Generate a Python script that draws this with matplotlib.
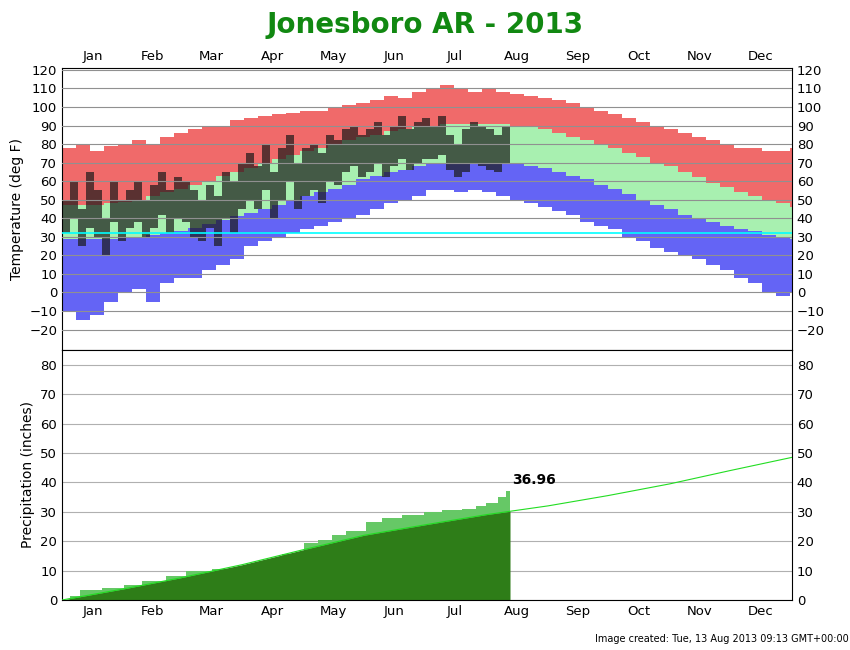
import matplotlib
matplotlib.use("Agg")
import matplotlib.pyplot as plt
import numpy as np

months = ["Jan","Feb","Mar","Apr","May","Jun","Jul","Aug","Sep","Oct","Nov","Dec"]
month_start = [0,31,59,90,120,151,181,212,243,273,304,334,365]

rec_high = [78,80,76,79,80, 82,80,84,86, 88,90,90,93, 94,95,96,97,98, 98,100,101,102,
            104,106,105,108, 110,112,110,108,110, 108,107,106,105, 104,102,100,98,
            96,94,92,90,88, 86,84,82,80, 78,78,76,76,78]
norm_high = [47,47,47,48,49, 50,52,54,56, 58,60,63,65, 67,70,72,74,76, 78,80,82,84,
             85,87,88,89, 90,91,91,91,91, 91,90,89,88, 86,84,82,80, 78,75,73,70,68,
             65,62,59,57, 54,52,50,48,46]
norm_low = [29,29,29,29,30, 30,31,32,33, 35,37,39,41, 43,45,47,50,52, 54,56,58,61,
            63,65,66,68, 69,70,70,70,70, 70,69,68,67, 65,63,61,58, 56,53,50,47,45,
            42,40,38,36, 34,33,31,30,29]
rec_low = [-10,-15,-12,-5,0, 2,-5,5,8, 8,12,15,18, 25,28,30,32,34, 36,38,40,42,
           45,48,50,52, 55,55,54,55,54, 52,50,48,46, 44,42,38,36, 34,30,28,24,22,
           20,18,15,12, 8,5,0,-2,0]

act_high = [50,60,45,65,55,40,60,50, 55,60,50,58,65,55,62, 60,55,50,58,52,65,60,70,
            75,68,80,65,78,85,70,78, 80,75,85,82,88,90,85, 88,92,85,90,95,88,92,94,
            90,95,85,80,88,92,90,88, 85,90]
act_low = [32,40,25,35,30,20,38,28, 35,38,30,35,42,32,40, 38,30,28,35,25,40,32,45,
           50,45,55,40,50,60,45,52, 55,48,60,58,65,68,62, 65,70,62,68,72,66,70,72,
           72,74,66,62,65,70,68,66, 65,70]

prec_days = [0,4,9,20,31,40,52,62,75,85,95,102,110,121,128,135,142,152,160,170,181,190,200,207,212,218,222,224]
prec_act  = [0,1.5,3.5,4,5,6.5,8,10,10.5,11,12,13,15.5,19.5,20.5,22,23.5,26.5,28,29,30,30.5,31,32,33,35,36.96,36.96]
norm_days = month_start
norm_prec = [0,3.8,7.5,12,17,22,25.5,29,32,35.5,39.5,44,48.5]

plt.rcParams['font.size'] = 9.5
fig = plt.figure(figsize=(8.5,6.5), dpi=100)
ax1 = fig.add_axes([62/850, 300/650, 730/850, 282/650])
ax2 = fig.add_axes([62/850, 50/650, 730/850, 250/650])

wk = np.arange(len(rec_high))*7
w = 7
ax1.bar(wk, np.array(rec_high)-np.array(norm_high), bottom=norm_high, width=w, align='edge', color='#f06a6a', lw=0, zorder=1)
ax1.bar(wk, np.array(norm_high)-np.array(norm_low), bottom=norm_low, width=w, align='edge', color='#a8f0b0', lw=0, zorder=1)
ax1.bar(wk, np.array(norm_low)-np.array(rec_low), bottom=rec_low, width=w, align='edge', color='#6464f5', lw=0, zorder=1)
ad = np.arange(len(act_high))*4
ax1.bar(ad, np.array(act_high)-np.array(act_low), bottom=act_low, width=4, align='edge', color='#1a1a1a', alpha=0.7, lw=0, zorder=2)
ax1.set_xlim(0,365); ax1.set_ylim(-31,121)
ax1.set_yticks(range(-20,121,10))
ax1.grid(axis='y', color='#909090', lw=0.8, zorder=3)
ax1.set_axisbelow(False)
ax1.axhline(32, color='cyan', lw=1.2, zorder=4)
ax1.set_ylabel("Temperature (deg F)", fontsize=10)

ax2.fill_between(prec_days, prec_act, step='post', color='#66c866', lw=0, zorder=2)
nd = [d for d in norm_days if d <= 224] + [224]
npv = list(np.interp(nd, norm_days, norm_prec))
ax2.fill_between(nd, npv, color='#2e7d18', lw=0, zorder=2)
ax2.plot(norm_days, norm_prec, color='#22dd22', lw=0.8, zorder=3)
ax2.text(225, 38.3, "36.96", fontsize=10, fontweight='bold', va='bottom')
ax2.set_xlim(0,365); ax2.set_ylim(0,85)
ax2.set_yticks(range(0,81,10))
ax2.grid(axis='y', color='#b0b0b0', lw=0.8, zorder=1)
ax2.set_axisbelow(True)
ax2.set_ylabel("Precipitation (inches)", fontsize=10)

mids = [(month_start[i]+month_start[i+1])/2 for i in range(12)]
for ax in (ax1, ax2):
    ax.tick_params(axis='y', right=True, labelright=True, length=0)
    ax.set_xticks(mids)
ax1.xaxis.tick_top()
ax1.set_xticklabels(months)
ax1.tick_params(axis='x', length=0)
ax2.set_xticklabels(months)
ax2.tick_params(axis='x', length=0)

fig.text(0.5, 0.962, "Jonesboro AR - 2013", ha='center', va='center', fontsize=20, fontweight='bold', color='#118811')
fig.text(0.998, 0.012, "Image created: Tue, 13 Aug 2013 09:13 GMT+00:00", ha='right', fontsize=7)
fig.savefig("out.png", dpi=100)
